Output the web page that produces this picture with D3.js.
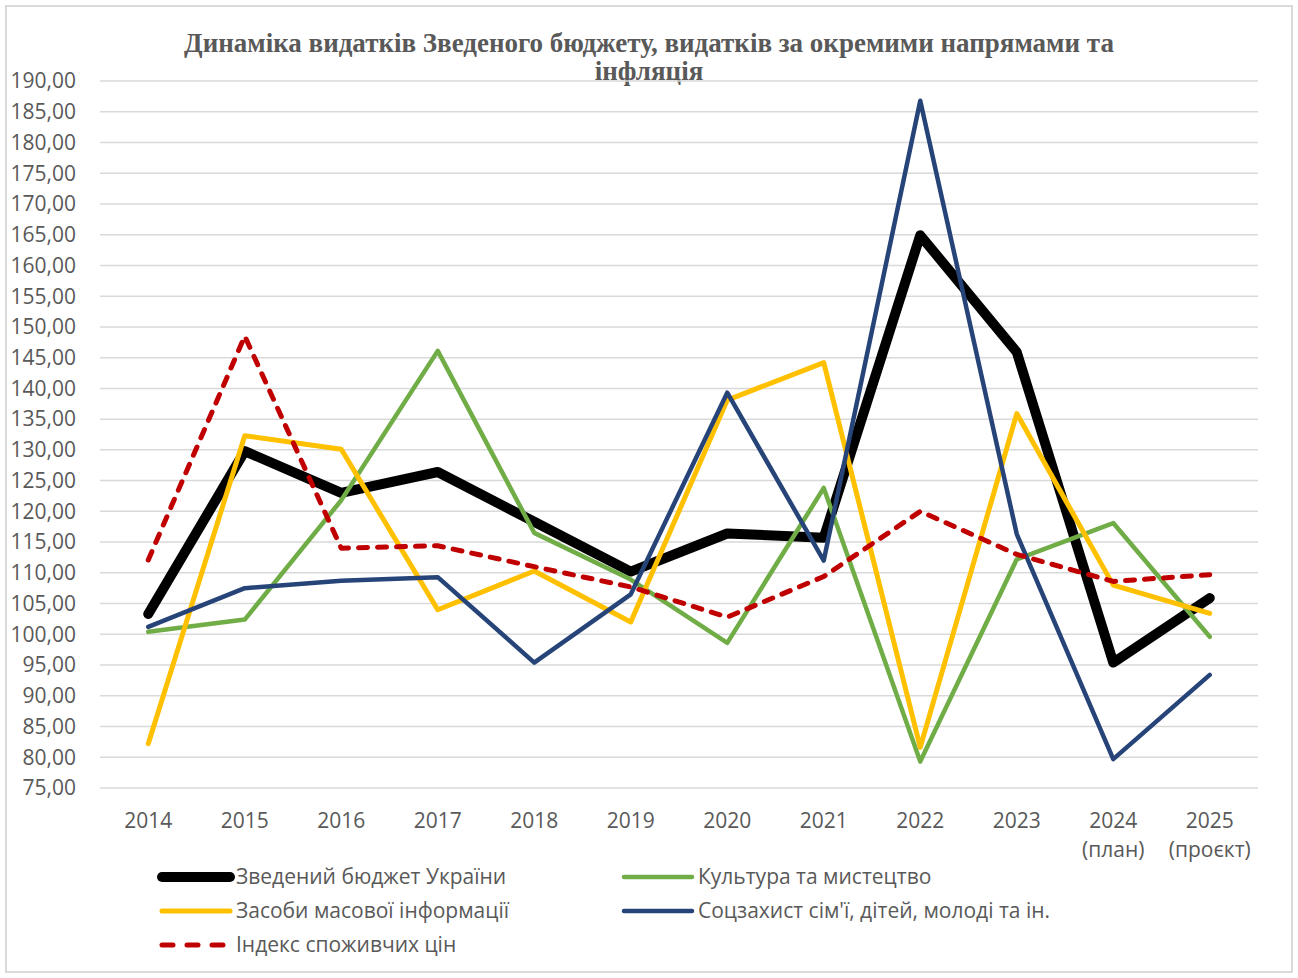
<!DOCTYPE html>
<html>
<head>
<meta charset="utf-8">
<script src="https://cdn.jsdelivr.net/npm/d3@7"></script>
<style>
    body { margin: 0; background: #fff; }
    svg text { font-family: "Open Sans", "Noto Sans", sans-serif; fill: #595959; }
    .title { font-family: "Liberation Serif", "DejaVu Serif", serif; font-weight: bold; }
</style>
</head>
<body>
<div id="chart"></div>
<script>
// Categories (years) and series values
const years = ["2014", "2015", "2016", "2017", "2018", "2019", "2020", "2021", "2022", "2023", "2024", "2025"];
const yearSub = ["", "", "", "", "", "", "", "", "", "", "(план)", "(проєкт)"];

const budget  = [103.3, 129.8, 123.0, 126.4, 118.3, 110.2, 116.4, 115.7, 164.9, 145.9, 95.4, 105.9];
const culture = [100.4, 102.4, 121.8, 146.1, 116.5, 108.9, 98.6, 123.8, 79.3, 112.2, 118.1, 99.6];
const media   = [82.2, 132.3, 130.1, 104.0, 110.3, 102.0, 138.1, 144.2, 81.6, 135.9, 108.0, 103.4];
const social  = [101.2, 107.5, 108.7, 109.3, 95.4, 106.5, 139.3, 112.0, 186.8, 116.3, 79.7, 93.4];
const cpi     = [112.1, 148.5, 114.0, 114.4, 111.0, 107.7, 102.8, 109.4, 120.0, 113.0, 108.6, 109.7];

const yTicks = d3.range(75, 191, 5);

const seriesNames = [
    "Зведений бюджет України",
    "Культура та мистецтво",
    "Засоби масової інформації",
    "Соцзахист сім'ї, дітей, молоді та ін.",
    "Індекс споживчих цін"
];

const W = 1298, H = 978;
const margin = {top: 81, right: 40, bottom: 190, left: 100};

const series = [
    {name: seriesNames[0], values: budget,  color: "#000000", width: 10, dash: null},
    {name: seriesNames[1], values: culture, color: "#70AD47", width: 4.5, dash: null},
    {name: seriesNames[2], values: media,   color: "#FFC000", width: 5, dash: null},
    {name: seriesNames[3], values: social,  color: "#264478", width: 4.5, dash: null},
    {name: seriesNames[4], values: cpi,     color: "#C00000", width: 5, dash: "9,10"}
];

const svg = d3.select("#chart").append("svg")
    .attr("width", W)
    .attr("height", H);

// chart border
svg.append("rect")
    .attr("x", 6).attr("y", 6)
    .attr("width", 1286).attr("height", 966)
    .attr("fill", "#fff")
    .attr("stroke", "#d9d9d9")
    .attr("stroke-width", 2);

// Title
const title = svg.append("text")
    .attr("class", "title")
    .attr("text-anchor", "middle")
    .style("font-size", "27px");
title.append("tspan").attr("x", 649).attr("y", 52)
    .text("Динаміка видатків Зведеного бюджету, видатків за окремими напрямами та");
title.append("tspan").attr("x", 649).attr("y", 80)
    .text("інфляція");

// Scales
const x = d3.scalePoint()
    .domain(years)
    .range([margin.left, 1258])
    .padding(0.5);

const y = d3.scaleLinear()
    .domain([75, 190])
    .range([788, margin.top]);

// Gridlines
svg.append("g")
    .selectAll("line")
    .data(yTicks)
    .join("line")
    .attr("x1", margin.left)
    .attr("x2", 1258)
    .attr("y1", d => y(d))
    .attr("y2", d => y(d))
    .attr("stroke", "#d9d9d9")
    .attr("stroke-width", 1.5);

// Y axis labels
const fmt = d => d3.format(".2f")(d).replace(".", ",");
svg.append("g")
    .selectAll("text")
    .data(yTicks)
    .join("text")
    .attr("x", 76)
    .attr("y", d => y(d))
    .attr("dy", "0.35em")
    .attr("text-anchor", "end")
    .style("font-size", "21px")
    .text(fmt);

// X axis labels
const xl = svg.append("g")
    .selectAll("text")
    .data(years)
    .join("text")
    .attr("text-anchor", "middle")
    .style("font-size", "21px");
xl.append("tspan")
    .attr("x", d => x(d))
    .attr("y", 828)
    .text(d => d);
xl.append("tspan")
    .attr("x", d => x(d))
    .attr("y", 857)
    .text((d, i) => yearSub[i]);

// Lines
const line = d3.line()
    .x((d, i) => x(years[i]))
    .y(d => y(d));

svg.append("g")
    .selectAll("path")
    .data(series)
    .join("path")
    .attr("d", d => line(d.values))
    .attr("fill", "none")
    .attr("stroke", d => d.color)
    .attr("stroke-width", d => d.width)
    .attr("stroke-linejoin", "round")
    .attr("stroke-linecap", "round")
    .attr("stroke-dasharray", d => d.dash);

// Legend
const legendPos = [
    {x: 160, y: 877}, {x: 622, y: 877},
    {x: 160, y: 911}, {x: 622, y: 911},
    {x: 160, y: 945}
];
const lg = svg.append("g")
    .selectAll("g")
    .data(series)
    .join("g")
    .attr("transform", (d, i) => `translate(${legendPos[i].x},${legendPos[i].y})`);

lg.append("line")
    .attr("x1", 2).attr("x2", 70)
    .attr("stroke", d => d.color)
    .attr("stroke-width", d => d.width)
    .attr("stroke-linecap", "round")
    .attr("stroke-dasharray", d => d.dash ? "11,14" : null);

lg.append("text")
    .attr("x", 76)
    .attr("dy", "0.35em")
    .style("font-size", "21px")
    .text(d => d.name);
</script>
</body>
</html>
